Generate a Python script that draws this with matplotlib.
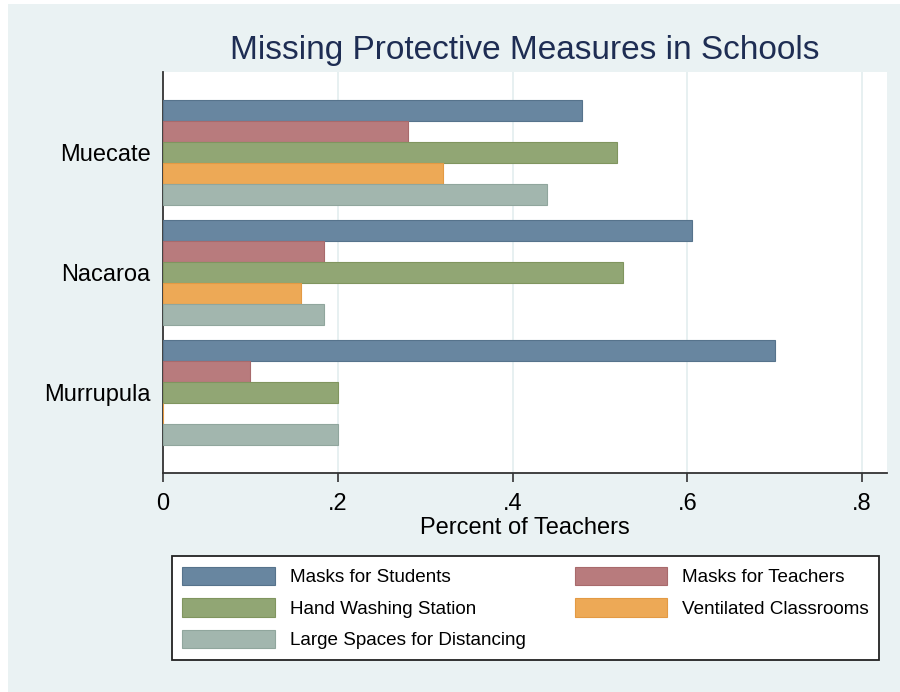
import numpy as np
import matplotlib.pyplot as plt
from matplotlib.patches import Rectangle, Patch

plt.rcParams['font.family'] = ['Liberation Sans', 'DejaVu Sans']

districts = ['Muecate', 'Nacaroa', 'Murrupula']
measures = ['Masks for Students', 'Masks for Teachers', 'Hand Washing Station',
            'Ventilated Classrooms', 'Large Spaces for Distancing']
values = {
    'Masks for Students':          [0.48, 0.605, 0.70],
    'Masks for Teachers':          [0.28, 0.184, 0.10],
    'Hand Washing Station':        [0.52, 0.526, 0.20],
    'Ventilated Classrooms':       [0.32, 0.158, 0.00],
    'Large Spaces for Distancing': [0.44, 0.184, 0.20],
}
colors = ['#6886A0', '#B87B7D', '#91A674', '#EDA956', '#A2B6AE']
edges = ['#56738C', '#A86A6C', '#80955F', '#E39A44', '#90A69D']
xticks = [0, 0.2, 0.4, 0.6, 0.8]
xticklabels = ['0', '.2', '.4', '.6', '.8']

bg = '#EAF2F3'
fig = plt.figure(figsize=(9, 6.92), dpi=100, facecolor='white')
fig.patches.append(Rectangle((8 / 900, 0), 1, 1 - 4 / 692, transform=fig.transFigure,
                             facecolor=bg, edgecolor='none', zorder=-10))

ax = fig.add_axes([163 / 900, 1 - 473 / 692, 724 / 900, 401 / 692])
ax.set_facecolor('white')

h = 0.175
centers = np.arange(len(districts))
for j, m in enumerate(measures):
    ax.barh(centers + (j - 2) * h, values[m], height=h, color=colors[j],
            edgecolor=edges[j], linewidth=0.8, zorder=3, label=m)

ax.set_ylim(2.671, -0.671)
ax.set_xlim(0, 0.8286)
ax.set_yticks(centers)
ax.set_yticklabels(districts, fontsize=17)
ax.tick_params(axis='y', length=0, pad=9)
ax.set_xticks(xticks)
ax.set_xticklabels(xticklabels, fontsize=17)
ax.tick_params(axis='x', length=6.5, width=1.2, color='#333333', pad=8)
ax.grid(axis='x', color='#E3EDEF', linewidth=1.2, zorder=0)
for t in ax.xaxis.get_gridlines()[:1]:
    t.set_visible(False)
for s in ['top', 'right']:
    ax.spines[s].set_visible(False)
for s in ['left', 'bottom']:
    ax.spines[s].set_color('#333333')
    ax.spines[s].set_linewidth(1.3)

ax.set_xlabel('Percent of Teachers', fontsize=17, labelpad=1.5)
fig.text(525 / 900, 1 - 50 / 692, 'Missing Protective Measures in Schools',
         fontsize=24, color='#1E2D53', ha='center', va='center')

handles = [Patch(facecolor=colors[j], edgecolor=edges[j], linewidth=0.8) for j in range(5)]
order = [0, 2, 4, 1, 3]
leg = fig.legend([handles[i] for i in order], [measures[i] for i in order],
                 ncol=2, loc='center',
                 bbox_to_anchor=(525.5 / 900, 1 - 608 / 692),
                 fontsize=13.6, handlelength=4.9, handleheight=1.12, handletextpad=0.8,
                 columnspacing=2.6, labelspacing=0.62, borderpad=0.55, borderaxespad=0,
                 fancybox=False, frameon=True, edgecolor='#222222', facecolor='white',
                 framealpha=1)
leg.get_frame().set_linewidth(1.3)

fig.savefig('out.png', dpi=100, facecolor=fig.get_facecolor())
